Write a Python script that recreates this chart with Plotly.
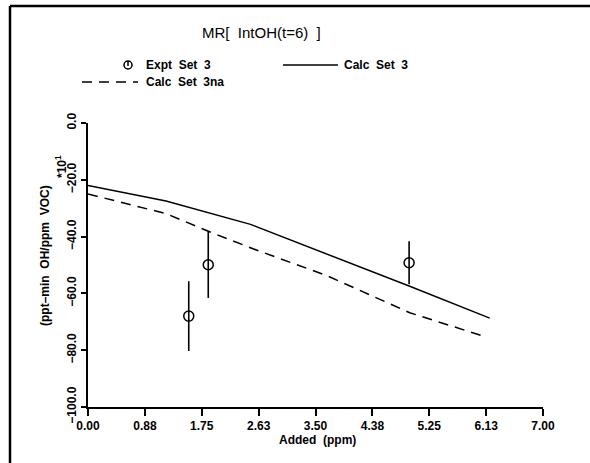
import plotly.graph_objects as go

# ---- data ----
calc_x = [0.0, 1.2, 2.5, 3.5, 4.95, 6.18]
calc3_y = [-22.0, -27.5, -35.7, -44.5, -57.5, -68.7]
calc_na_x = [0.0, 1.2, 1.88, 2.54, 3.67, 4.95, 6.13]
calc3na_y = [-25.0, -31.9, -38.4, -44.3, -53.7, -66.8, -75.4]
expt_x = [1.55, 1.85, 4.94]
expt_y = [-68.0, -49.9, -49.2]
expt_err = [12.3, 11.7, 7.6]
xtick_vals = [0, 0.875, 1.75, 2.625, 3.5, 4.375, 5.25, 6.125, 7.0]
xtick_text = ["0.00", "0.88", "1.75", "2.63", "3.50", "4.38", "5.25", "6.13", "7.00"]
ytick_vals = [0, -20, -40, -60, -80, -100]
ytick_text = ["0.0", "\u221220.0", "\u221240.0", "\u221260.0", "\u221280.0", "\u2212100.0"]

W, H = 590, 463
L, R, T, B = 88, 543, 123, 407
FONT = "Liberation Sans"

def px(x):
    return (x - L) / (R - L)

def py(y):
    return (B - y) / (B - T)

fig = go.Figure()
fig.add_trace(go.Scatter(x=calc_x, y=calc3_y, mode="lines",
                         line=dict(color="black", width=1.5), name="Calc Set 3"))
fig.add_trace(go.Scatter(x=calc_na_x, y=calc3na_y, mode="lines",
                         line=dict(color="black", width=1.5, dash="10px,7px"), name="Calc Set 3na"))
fig.add_trace(go.Scatter(x=expt_x, y=expt_y, mode="markers",
                         marker=dict(symbol="circle-open", size=10, color="black", line=dict(width=1.5)),
                         error_y=dict(type="data", array=expt_err, visible=True, width=0,
                                      thickness=1.6, color="black"),
                         name="Expt Set 3"))

shapes = []
# frame lines (left and top)
shapes.append(dict(type="line", xref="paper", yref="paper", x0=px(10), x1=px(10), y0=py(6), y1=py(470),
                   line=dict(color="black", width=2.5)))
shapes.append(dict(type="line", xref="paper", yref="paper", x0=px(10), x1=px(600), y0=py(6), y1=py(6),
                   line=dict(color="black", width=2.5)))
# legend samples
shapes.append(dict(type="circle", xref="paper", yref="paper", x0=px(124), x1=px(132), y0=py(61), y1=py(69),
                   line=dict(color="black", width=1.5)))
shapes.append(dict(type="line", xref="paper", yref="paper", x0=px(128), x1=px(128), y0=py(61), y1=py(66),
                   line=dict(color="black", width=1.5)))
shapes.append(dict(type="line", xref="paper", yref="paper", x0=px(283), x1=px(338), y0=py(65), y1=py(65),
                   line=dict(color="black", width=1.5)))
shapes.append(dict(type="line", xref="paper", yref="paper", x0=px(82), x1=px(138), y0=py(82), y1=py(82),
                   line=dict(color="black", width=1.5, dash="10px,7px")))

ann = []
def text(x, y, s, size=12, angle=0, bold=True, anchor="center"):
    ann.append(dict(xref="paper", yref="paper", x=px(x), y=py(y), text=("<b>%s</b>" % s) if bold else s,
                    showarrow=False, textangle=angle, xanchor=anchor, yanchor="middle",
                    font=dict(family=FONT, size=size, color="black")))

text(261, 32, "MR[  IntOH(t=6)  ]", size=15, bold=False)
text(144, 65, "Expt  Set  3", anchor="left")
text(342, 65, "Calc  Set  3", anchor="left")
text(144, 82, "Calc  Set  3na", anchor="left")
text(45, 256, "(ppt\u2013min  OH/ppm  VOC)", angle=-90)
text(61, 167, "*10<sup>1</sup>", angle=-90)
text(317, 440, "Added  (ppm)")

fig.update_layout(
    width=W, height=H, margin=dict(l=L, r=W - R, t=T, b=H - B, pad=0),
    paper_bgcolor="white", plot_bgcolor="white", showlegend=False,
    shapes=shapes, annotations=ann,
    font=dict(family=FONT, size=12, color="black"),
)
fig.update_xaxes(range=[0, 7], tickvals=xtick_vals, ticktext=["<b>%s</b>" % t for t in xtick_text],
                 showgrid=False, zeroline=False, showline=True, linecolor="black", linewidth=1.5,
                 ticks="outside", ticklen=7, tickwidth=1.5, tickcolor="black",
                 tickfont=dict(family=FONT, size=12, color="black"))
fig.update_yaxes(range=[-100, 0], tickvals=ytick_vals, ticktext=["<b>%s</b>" % t for t in ytick_text],
                 tickangle=-90, showgrid=False, zeroline=False, showline=True, linecolor="black",
                 linewidth=1.5, ticks="outside", ticklen=5, tickwidth=1.5, tickcolor="black",
                 tickfont=dict(family=FONT, size=12, color="black"))

fig.write_html("out.html")
